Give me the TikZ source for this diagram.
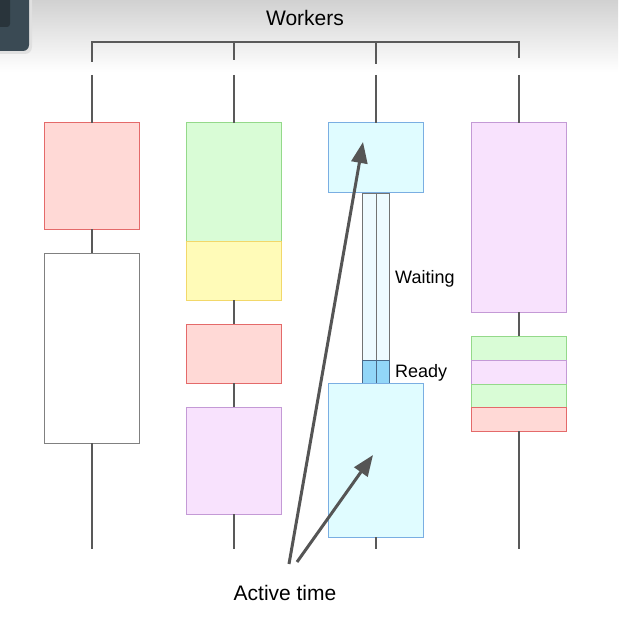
\documentclass[tikz,border=0pt]{standalone}
\usepackage{fontspec}
\setmainfont{Liberation Sans}
\usetikzlibrary{arrows.meta,positioning}

\definecolor{redfill}{HTML}{FFD9D6}
\definecolor{redline}{HTML}{E46A6A}
\definecolor{greenfill}{HTML}{D9FCD6}
\definecolor{greenline}{HTML}{94D98A}
\definecolor{yellowfill}{HTML}{FFFBB8}
\definecolor{yellowline}{HTML}{F2D86A}
\definecolor{cyanfill}{HTML}{E0FCFF}
\definecolor{cyanline}{HTML}{7AAEE2}
\definecolor{purplefill}{HTML}{F8E2FD}
\definecolor{purpleline}{HTML}{C49AD6}
\definecolor{readyfill}{HTML}{92D6F8}
\definecolor{waitfill}{HTML}{EEFBFF}
\definecolor{pointercol}{HTML}{555555}
\definecolor{slate}{HTML}{3A4A54}

\begin{document}
\begin{tikzpicture}
[x=1pt,y=-1pt,
task/.style={rectangle,draw,line width=1pt,minimum width=95pt,inner sep=0pt,outer sep=0pt,anchor=north},
redtask/.style={task,fill=redfill,draw=redline},
greentask/.style={task,fill=greenfill,draw=greenline},
yellowtask/.style={task,fill=yellowfill,draw=yellowline},
cyantask/.style={task,fill=cyanfill,draw=cyanline},
purpletask/.style={task,fill=purplefill,draw=purpleline},
plaintask/.style={task,fill=white,draw=gray},
waitbar/.style={rectangle,draw=gray!90!black,line width=0.8pt,fill=waitfill,minimum width=13.5pt,inner sep=0pt,outer sep=0pt},
readybar/.style={waitbar,fill=readyfill,draw=cyanline!60!black},
timeline/.style={-,line width=1.2pt,draw=black!65},
pointer/.style={-{Triangle[length=21pt,width=16pt]},line width=3pt,draw=pointercol,fill=pointercol},
bigtext/.style={font=\fontsize{21}{25}\selectfont,inner sep=0pt},
smalltext/.style={font=\fontsize{18}{22}\selectfont,inner sep=0pt,anchor=west}]

\useasboundingbox (0,0) rectangle (618,620);
\clip (0,0) rectangle (618,620);

% Background
\shade[top color=black!18,bottom color=white] (0,0) rectangle (618,72);
\fill[white] (0,72) rectangle (618,620);
\fill[black!12,rounded corners=7pt] (-20,-20) rectangle (32,54);
\fill[slate,rounded corners=6pt] (-20,-20) rectangle (29,51);
\fill[slate!70!black,rounded corners=3pt] (-20,-20) rectangle (10,27);

% Header
\node[bigtext] (workers) at (305,18) {Workers};
\draw[timeline] (92,62) -- (92,42) -- (519,42) -- (519,58);
\draw[timeline] (234,42) -- (234,60);
\draw[timeline] (376,42) -- (376,64);

\foreach \col/\x in {1/92,2/234,3/376,4/519} {
	\coordinate (top\col) at (\x,75);
	\coordinate (bot\col) at (\x,549);
}

% Worker 1
\node[redtask,minimum height=106pt] (wa1) at (92,123) {};
\node[plaintask,minimum height=190pt] (wa2) at (92,253) {};

% Worker 2
\node[greentask,minimum height=118pt] (wb1) at (234,123) {};
\node[yellowtask,minimum height=59pt] (wb2) at (wb1.south) {};
\node[redtask,minimum height=59pt] (wb3) at (234,324) {};
\node[purpletask,minimum height=107pt] (wb4) at (234,407) {};

% Worker 3
\node[cyantask,minimum height=70pt] (wc1) at (376,123) {};
\node[waitbar,minimum height=167pt,anchor=north east] (waitL) at (wc1.south) {};
\node[waitbar,minimum height=167pt,anchor=north west] (waitR) at (wc1.south) {};
\node[readybar,minimum height=23pt,anchor=north] (readyL) at (waitL.south) {};
\node[readybar,minimum height=23pt,anchor=north] (readyR) at (waitR.south) {};
\node[cyantask,minimum height=154pt] (wc2) at (376,383) {};

% Worker 4
\node[purpletask,minimum height=189pt] (wd1) at (519,123) {};
\node[greentask,minimum height=24pt] (wd2) at (519,336) {};
\node[purpletask,minimum height=24pt] (wd3) at (wd2.south) {};
\node[greentask,minimum height=23pt] (wd4) at (wd3.south) {};
\node[redtask,minimum height=24pt] (wd5) at (wd4.south) {};

% Drawing connections
\draw[timeline] (top1) -- (wa1.north);
\draw[timeline] (wa1.south) -- (wa2.north);
\draw[timeline] (wa2.south) -- (bot1);
\draw[timeline] (top2) -- (wb1.north);
\draw[timeline] (wb2.south) -- (wb3.north);
\draw[timeline] (wb3.south) -- (wb4.north);
\draw[timeline] (wb4.south) -- (bot2);
\draw[timeline] (top3) -- (wc1.north);
\draw[timeline] (wc2.south) -- (bot3);
\draw[timeline] (top4) -- (wd1.north);
\draw[timeline] (wd1.south) -- (wd2.north);
\draw[timeline] (wd5.south) -- (bot4);

% Labels
\node[smalltext] (waiting) at (395,279) {Waiting};
\node[smalltext] (ready) at (395,373) {Ready};
\node[bigtext] (active) at (285,593) {Active time};

\coordinate (from1) at (289,564);
\coordinate (from2) at (297,562);
\coordinate (tip1) at (363,142);
\coordinate (tip2) at (373,455);
\draw[pointer] (from1) -- (tip1);
\draw[pointer] (from2) -- (tip2);
\end{tikzpicture}
\end{document}
